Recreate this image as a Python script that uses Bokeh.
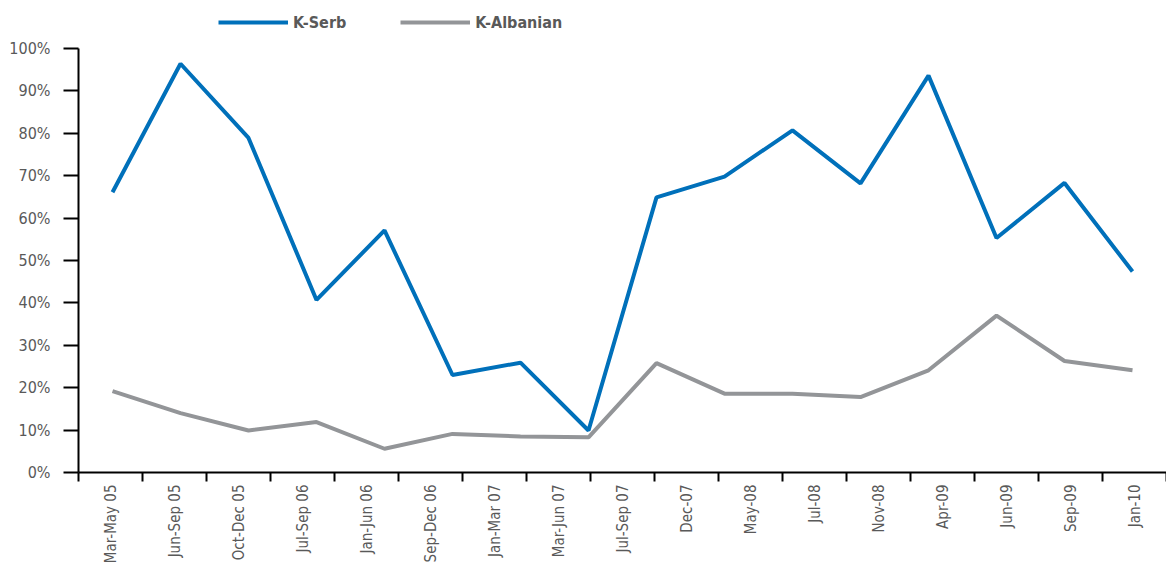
import math
from bokeh.plotting import figure
from bokeh.models import (Range1d, LinearAxis, FixedTicker, CustomJSTickFormatter,
                          PrintfTickFormatter, Legend, LegendItem)
from bokeh.embed import file_html
from bokeh.resources import INLINE

# ---- data ----
categories = ["Mar-May 05", "Jun-Sep 05", "Oct-Dec 05", "Jul-Sep 06", "Jan-Jun 06",
              "Sep-Dec 06", "Jan-Mar 07", "Mar-Jun 07", "Jul-Sep 07", "Dec-07",
              "May-08", "Jul-08", "Nov-08", "Apr-09", "Jun-09", "Sep-09", "Jan-10"]
k_serb = [66.1, 96.4, 78.9, 40.7, 57.1, 23.0, 25.9, 9.9,
          64.9, 69.8, 80.7, 68.2, 93.6, 55.3, 68.3, 47.4]
k_albanian = [19.2, 14.0, 9.9, 11.9, 5.6, 9.1, 8.5, 8.3,
              25.8, 18.6, 18.6, 17.8, 24.1, 37.0, 26.3, 24.1]
y_ticks = [0, 10, 20, 30, 40, 50, 60, 70, 80, 90, 100]
series_names = ["K-Serb", "K-Albanian"]

FONT = "DejaVu Sans Condensed"
TXT = "#595959"
BLUE = "#0070BA"
GREY = "#939598"

n_cat = len(categories)
n_pts = len(k_serb)

FRAME_H = 472          # frame spans from top of figure to the 0% line
PLOT_H = 424           # pixels from 0% to 100%
y_top = 100.0 * FRAME_H / PLOT_H

p = figure(frame_width=1088, frame_height=FRAME_H, output_backend="svg", toolbar_location=None,
           x_range=Range1d(0, n_cat), y_range=Range1d(0, y_top),
           min_border_left=78, min_border_top=0, min_border_bottom=0,
           min_border_right=0, x_axis_type=None, y_axis_type=None)
p.extra_x_ranges = {"data": Range1d(-0.5, n_pts - 0.5)}
p.outline_line_color = None
p.background_fill_color = "white"
p.border_fill_color = "white"

# x axis: labels at category centres, tick marks at boundaries
centres = [i + 0.5 for i in range(n_cat)]
bounds = list(range(n_cat + 1))
xaxis = LinearAxis(ticker=FixedTicker(ticks=centres, minor_ticks=bounds),
                   formatter=CustomJSTickFormatter(args=dict(labels=categories),
                                                   code="return labels[Math.round(tick - 0.5)];"))
xaxis.axis_line_color = "black"
xaxis.axis_line_width = 2
xaxis.major_tick_out = 0
xaxis.major_tick_in = 0
xaxis.minor_tick_out = 9
xaxis.minor_tick_in = 0
xaxis.minor_tick_line_color = "black"
xaxis.minor_tick_line_width = 2
xaxis.major_label_orientation = math.pi / 2
xaxis.major_label_standoff = 3
xaxis.major_label_text_font = FONT
xaxis.major_label_text_font_size = "15px"
xaxis.major_label_text_color = TXT
p.add_layout(xaxis, "below")

yaxis = LinearAxis(ticker=FixedTicker(ticks=y_ticks, minor_ticks=[]),
                   formatter=PrintfTickFormatter(format="%d%%"), bounds=(0, 100))
yaxis.axis_line_color = "black"
yaxis.axis_line_width = 2
yaxis.major_tick_out = 15
yaxis.major_tick_in = 0
yaxis.major_tick_line_color = "black"
yaxis.major_tick_line_width = 2
yaxis.minor_tick_out = 0
yaxis.minor_tick_in = 0
yaxis.major_label_standoff = 13
yaxis.major_label_text_font = FONT
yaxis.major_label_text_font_size = "16px"
yaxis.major_label_text_color = TXT
p.add_layout(yaxis, "left")

p.xgrid.visible = False
p.ygrid.ticker = FixedTicker(ticks=y_ticks)
p.ygrid.grid_line_color = "black"
p.ygrid.grid_line_width = 2

xs = list(range(n_pts))
r_serb = p.line(xs, k_serb, x_range_name="data", line_color=BLUE, line_width=4)
r_alb = p.line(xs, k_albanian, x_range_name="data", line_color=GREY, line_width=4)

legend = Legend(items=[LegendItem(label=series_names[0], renderers=[r_serb]),
                       LegendItem(label=series_names[1], renderers=[r_alb])],
                orientation="horizontal", location=(140, 440))
legend.border_line_color = None
legend.background_fill_alpha = 0
legend.padding = 0
legend.margin = 0
legend.spacing = 54
legend.glyph_width = 70
legend.glyph_height = 20
legend.label_standoff = 5
legend.label_text_font = FONT
legend.label_text_font_style = "bold"
legend.label_text_font_size = "16px"
legend.label_text_color = TXT
p.add_layout(legend, "center")

open("out.html", "w").write(file_html(p, INLINE))
